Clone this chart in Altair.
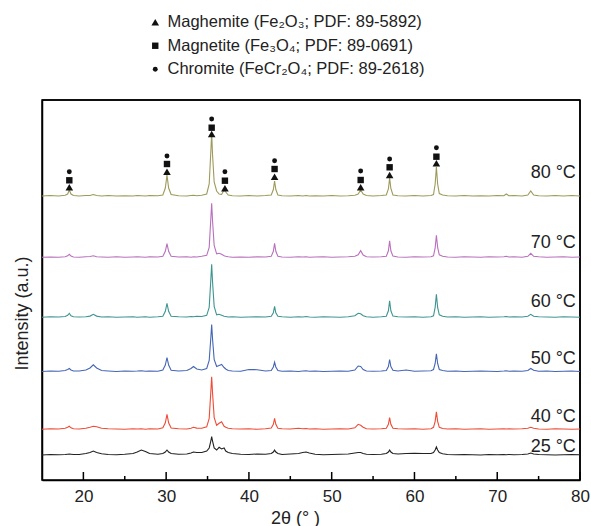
import altair as alt
import pandas as pd

# 2-theta grid (degrees)
two_theta = [15, 16, 17, 17.8, 18.1, 18.3, 18.5, 18.8, 19.5, 20.3, 20.8, 21.2, 21.6, 22.2, 23, 24, 25, 26, 26.5, 27.0,
             27.5, 28, 29, 29.6, 29.9, 30.1, 30.3, 30.6, 31.5, 32.5, 33.0, 33.3, 33.7, 34.3, 34.9, 35.2, 35.4, 35.5, 35.6, 35.8,
             36.1, 36.4, 36.7, 37.0, 37.2, 37.5, 38, 39, 40, 41, 42, 42.7, 42.95, 43.1, 43.25, 43.5, 44, 45, 46, 46.5,
             46.9, 47.3, 48, 49, 50, 51, 52, 52.8, 53.2, 53.5, 53.8, 54.2, 55, 56, 56.6, 56.85, 57.0, 57.15, 57.4, 58,
             59, 60, 61, 62, 62.3, 62.5, 62.65, 62.8, 63.0, 63.4, 64, 65, 66, 67, 68, 69, 70, 70.8, 71.1, 71.4,
             72, 73, 73.7, 74.05, 74.4, 75, 76, 77, 78, 79, 80]

# intensities above each pattern's own baseline (a.u.)
i_80 = [0, 0.5, 0, 0.8, 2, 6, 2, 0.5, 0, 0.5, 0.5, 1.5, 0.5, 0, 0.5, 0, 0.3, 0, 0.5, 0.3,
        0, 0.5, 0.3, 1, 8, 21, 8, 1.5, 0.3, 0, 0.5, 0.8, 0.3, 0.8, 2, 12, 45, 63, 42, 14,
        5, 2, 1.5, 6, 4, 1, 0.3, 0, 0.5, 0, 0.5, 1, 6.5, 15, 6.5, 1, 0.3, 0, 0.5, 0,
        0.5, 0, 0.3, 0, 0.5, 0, 0.3, 0.8, 2, 6, 2, 0.5, 0, 0.5, 1, 7, 18, 7.5, 1, 0.3,
        0, 0.5, 0, 0.5, 1.5, 12, 29, 12, 2.5, 1, 0.3, 0, 0.5, 0, 0.3, 0, 0.5, 0.3, 2, 0.3,
        0.5, 0, 1, 5, 1, 0.3, 0, 0.5, 0, 0.5, 0]
i_70 = [0, 0.3, 0, 0.5, 1.5, 3, 1.2, 0.3, 0, 0.5, 0.8, 1.5, 0.5, 0.3, 0, 0.5, 0, 0.3, 0.5, 0.3,
        0, 0.5, 0.3, 1, 6, 13.6, 6, 1, 0.3, 0.5, 0, 0.5, 0.3, 1, 2, 10, 39, 54, 37, 12,
        3.5, 4, 3, 1.5, 1, 0.5, 0, 0.3, 0, 0.5, 0.3, 1, 6, 14, 6, 1, 0.3, 0, 0.5, 0.3,
        0.5, 0, 0.3, 0.5, 0, 0.3, 0.5, 1, 2.5, 6.6, 2.2, 0.5, 0.3, 0.5, 1, 6.5, 16.6, 6.5, 1.2, 0.3,
        0, 0.5, 0.3, 0.5, 1.5, 9.5, 22, 10, 2.5, 1, 0.3, 0, 0.5, 0.3, 0, 0.5, 0.3, 0.5, 1, 0.3,
        0.5, 0, 1, 4, 1, 0.5, 0, 0.3, 0.5, 0, 0.3]
i_60 = [0, 0.5, 0.3, 0.8, 2, 4, 1.5, 0.5, 0.3, 0.5, 1.2, 3, 1.2, 0.3, 0.5, 0, 0.3, 0.5, 0, 0.3,
        0.5, 0, 0.5, 1, 6, 14, 6, 1, 0.5, 0.3, 0.8, 0.5, 1, 0.8, 2, 10, 38, 53, 36, 11,
        2.5, 3, 2, 1, 0.8, 0.3, 0.5, 0, 0.3, 0.5, 0.3, 1, 4.5, 11, 4.5, 1, 0.5, 0, 0.5, 0.3,
        0.8, 0.3, 0, 0.5, 0.3, 0, 0.5, 1.5, 4, 3.5, 1.5, 0.5, 0, 0.5, 1, 6.5, 16.6, 6.5, 1.2, 0.5,
        0.3, 0.5, 0, 0.5, 1.5, 10, 23, 10, 2.5, 1, 0.3, 0.5, 0, 0.3, 0.5, 0, 0.3, 0.5, 0.8, 0.3,
        0.5, 0.3, 1, 3, 1, 0.5, 0.3, 0, 0.5, 0.3, 0]
i_50 = [0, 0.5, 0.3, 1, 2, 3, 1.5, 0.5, 0.5, 1.5, 3.5, 6.7, 3.5, 1, 0.5, 0, 0.5, 0.3, 0.5, 0.8,
        0.3, 0.5, 0.3, 1.5, 6.5, 14, 6.5, 1.2, 0.5, 1, 3, 5, 2.5, 1.5, 3, 11, 34, 47, 33, 12,
        5, 6, 7, 4, 2.5, 1, 0.5, 0.3, 2, 1.8, 0.5, 1, 4.5, 9.3, 4.5, 1, 0.3, 0.5, 0, 0.5,
        0.8, 0.3, 0.5, 0, 0.3, 0.5, 0.3, 1.5, 5.5, 5, 2, 0.5, 0.3, 0.5, 1, 5, 12, 5, 1.2, 0.5,
        1.5, 0.3, 0.5, 0.8, 2, 8, 17.7, 8, 2, 1, 0.3, 0.5, 0, 0.3, 0.5, 0.3, 0, 0.5, 0.8, 0.3,
        0.5, 0.3, 1, 3, 1.2, 0.3, 0.5, 0, 0.3, 0.5, 0]
i_40 = [0, 0.5, 0.3, 1, 2, 3, 1.5, 0.5, 0.3, 1, 2, 3, 2.5, 1, 0.5, 0.3, 0, 0.5, 0.3, 0.5,
        0, 0.5, 0.3, 1.5, 6.5, 15, 6.5, 1.2, 0.5, 0.3, 1, 2, 1.2, 1, 2.5, 11, 38, 52.6, 37, 12,
        4, 6, 7.6, 3, 2, 1, 0.5, 0.3, 0.5, 0, 0.5, 1.2, 5, 11, 5, 1, 0.5, 0.3, 1, 0.5,
        0.8, 0.3, 0.5, 0, 0.3, 0.5, 0.3, 1.5, 5, 4, 2, 0.5, 0.3, 0.5, 1, 5, 11.6, 5, 1, 0.5,
        0.3, 0.5, 0, 0.5, 2, 8, 17.6, 8, 2, 0.8, 0.3, 0.5, 0, 0.3, 0.5, 0, 0.3, 0.5, 0.3, 0.5,
        0.3, 0.5, 1, 2, 1, 0.3, 0, 0.5, 0.3, 0, 0.3]
i_25 = [0, 0.5, 0.3, 0.5, 0.8, 1, 0.8, 0.5, 0.5, 1.5, 2.5, 4, 2.5, 1.2, 0.5, 0.3, 0.8, 1.5, 3, 5,
        3.5, 1.5, 0.8, 1.5, 3, 5, 3, 1.5, 0.8, 1, 2, 3, 2.5, 2.5, 4, 7, 14, 18.3, 14, 7,
        5, 7.7, 6, 7, 4, 2.5, 1.5, 0.8, 0.5, 1, 0.8, 1.5, 3, 5, 3, 1.5, 0.5, 1, 1.5, 2.5,
        3, 2, 0.8, 0.3, 0.5, 0.8, 1, 2, 2.5, 2.5, 1.5, 0.8, 0.5, 0.8, 1.5, 3, 5, 3, 1.5, 1,
        1.5, 1.8, 1.5, 1.5, 2.5, 5, 8, 5, 2.5, 1.2, 0.5, 0.3, 0.5, 0.3, 0, 0.5, 0.3, 0.5, 0.3, 0.5,
        0.3, 0.5, 1, 2, 1, 0.5, 0.3, 0, 0.3, 0.5, 0.3]

temps = ["25 °C", "40 °C", "50 °C", "60 °C", "70 °C", "80 °C"]
series = [i_25, i_40, i_50, i_60, i_70, i_80]
offsets = [25, 50.7, 108.5, 162.7, 222.7, 284]
label_rise = [8, 12.6, 13, 15.6, 14, 23]
colors = ["#222222", "#f04b35", "#4565b5", "#3e9590", "#b970bd", "#9e9a5a"]

# phase identification marks (above the 80 °C pattern)
phases = ["Maghemite (Fe\u2082O\u2083; PDF: 89-5892)",
          "Magnetite (Fe\u2083O\u2084; PDF: 89-0691)",
          "Chromite (FeCr\u2082O\u2084; PDF: 89-2618)"]
mark_2theta = [18.3, 30.1, 35.5, 37.1, 43.1, 53.5, 57.0, 62.65]
maghemite_y = [292.7, 308.3, 346, 291.7, 303.3, 292.7, 305, 316.7]
magnetite_y = [299.7, 316, 352.3, 299.3, 311, 300, 312.7, 323.3]
chromite_y = [308.3, 324, 361, 308.3, 319.3, 309, 321, 332.3]

major_ticks = [20, 30, 40, 50, 60, 70, 80]
minor_ticks = [25, 35, 45, 55, 65, 75]
X_MIN, X_MAX = 15, 80
Y_MIN, Y_MAX = 0, 380

W, H = 538, 380
INK = "#000000"

rows = []
for t, s, off in zip(temps, series, offsets):
    for x, v in zip(two_theta, s):
        rows.append({"two_theta": x, "intensity": off + v, "sample": t})
df = pd.DataFrame(rows)

mk = []
for ph, ys in zip(phases, [maghemite_y, magnetite_y, chromite_y]):
    for x, y in zip(mark_2theta, ys):
        mk.append({"two_theta": x, "intensity": y, "phase": ph})
df_mk = pd.DataFrame(mk)

df_lab = pd.DataFrame({"sample": temps,
                       "two_theta": [79.5] * 6,
                       "intensity": [o + r for o, r in zip(offsets, label_rise)]})

# inward tick marks (length in intensity units of the y scale)
df_ticks = pd.DataFrame({"two_theta": major_ticks + minor_ticks,
                         "intensity": [Y_MIN] * (len(major_ticks) + len(minor_ticks)),
                         "top": [Y_MIN + 8] * len(major_ticks) + [Y_MIN + 4] * len(minor_ticks)})
# top and right sides of the frame
df_frame = pd.DataFrame({"two_theta": [X_MIN, X_MAX], "x_end": [X_MAX, X_MAX],
                         "intensity": [Y_MAX, Y_MIN], "y_end": [Y_MAX, Y_MAX]})

FONT = "Liberation Sans"
xscale = alt.Scale(domain=[X_MIN, X_MAX], nice=False, zero=False)
yscale = alt.Scale(domain=[Y_MIN, Y_MAX], nice=False, zero=False)

xaxis = alt.Axis(values=major_ticks, ticks=False, grid=False, title="2θ (° )",
                 labelFontSize=17, labelFont=FONT, labelColor="#222222", labelPadding=8,
                 labelFlush=False, labelOverlap=False,
                 domainColor=INK, domainWidth=1.5,
                 titleFont=FONT, titleFontSize=18, titleFontWeight="normal", titleColor="#222222",
                 titleX=253, titleY=38, titleBaseline="middle", titleAlign="center")
yaxis = alt.Axis(labels=False, ticks=False, grid=False, title="Intensity (a.u.)",
                 domainColor=INK, domainWidth=1.5,
                 titleFont=FONT, titleFontSize=18, titleFontWeight="normal", titleColor="#222222",
                 titleX=-20, titleY=213, titleAngle=270, titleBaseline="middle", titleAlign="center")

legend = alt.Legend(title=None, orient="none", legendX=105, legendY=-86,
                    direction="vertical", labelFont=FONT, labelFontSize=16.5,
                    labelColor="#222222", labelOffset=4, rowPadding=6.5,
                    padding=0, labelLimit=400)

base_x = alt.X("two_theta:Q", scale=xscale, axis=xaxis)
base_y = alt.Y("intensity:Q", scale=yscale, axis=yaxis)

frame = alt.Chart(df_frame).mark_rule(stroke=INK, strokeWidth=1.5).encode(
    x=base_x, x2="x_end:Q", y=base_y, y2="y_end:Q")

ticks = alt.Chart(df_ticks).mark_rule(stroke=INK, strokeWidth=1.5).encode(
    x=base_x, y=base_y, y2="top:Q")

lines = alt.Chart(df).mark_line(strokeWidth=1.1).encode(
    x=base_x, y=base_y,
    color=alt.Color("sample:N", scale=alt.Scale(domain=temps, range=colors), legend=None),
    detail="sample:N",
)

points = alt.Chart(df_mk).mark_point(filled=True, opacity=1, color="#111111").encode(
    x=base_x, y=base_y,
    shape=alt.Shape("phase:N", scale=alt.Scale(domain=phases, range=["triangle-up", "square", "circle"]),
                    legend=legend),
    size=alt.Size("phase:N", scale=alt.Scale(domain=phases, range=[58, 24, 15]), legend=legend),
)

labels = alt.Chart(df_lab).mark_text(align="right", baseline="middle", font=FONT, fontSize=18,
                                     color="#222222").encode(
    x=base_x, y=base_y,
    text="sample:N",
)

chart = alt.layer(frame, ticks, lines, points, labels).properties(
    width=W, height=H,
    autosize=alt.AutoSizeParams(type="none"),
    padding={"left": 42, "top": 100, "right": 11, "bottom": 46},
).configure_view(stroke=INK, strokeWidth=1.5, fill="white")

chart.save("out.html", embed_options={"renderer": "svg", "actions": False})
